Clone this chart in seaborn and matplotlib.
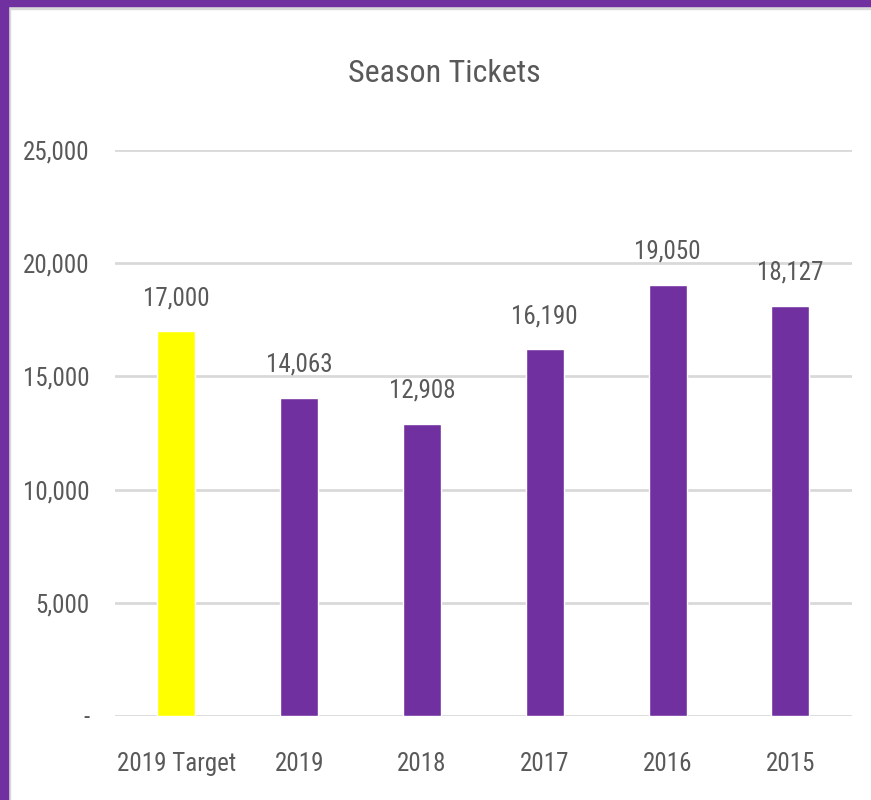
import matplotlib
matplotlib.use("Agg")
import matplotlib.pyplot as plt
from matplotlib.patches import Rectangle
from matplotlib.ticker import FuncFormatter
import seaborn as sns
import pandas as pd

categories = ["2019 Target", "2019", "2018", "2017", "2016", "2015"]
tickets = [17000, 14063, 12908, 16190, 19050, 18127]
bar_colors = ["#FFFF00", "#7030A0", "#7030A0", "#7030A0", "#7030A0", "#7030A0"]

sns.set_style("white")
# narrow font, closest to the Calibri used in the original
plt.rcParams['font.family'] = ['Roboto Condensed', 'DejaVu Sans']
text_grey = "#595959"

df = pd.DataFrame({"season": categories, "tickets": tickets})

fig = plt.figure(figsize=(8.71, 8.0), dpi=100)
ax = fig.add_axes([0.132, 0.105, 0.846, 0.7075])

sns.barplot(data=df, x="season", y="tickets", hue="season",
            palette=bar_colors, legend=False, width=0.31, ax=ax,
            saturation=1)

for c in ax.containers:
    ax.bar_label(c, labels=[f"{v:,.0f}" for v in c.datavalues],
                 padding=15, fontsize=18, color=text_grey)

ax.set_ylim(0, 25000)
ax.set_yticks([0, 5000, 10000, 15000, 20000, 25000])
ax.yaxis.set_major_formatter(FuncFormatter(lambda v, p: "-" if v == 0 else f"{v:,.0f}"))
ax.grid(axis="y", color="#D9D9D9", linewidth=2)
ax.set_axisbelow(True)
for s in ax.spines.values():
    s.set_visible(False)
ax.tick_params(axis="y", length=0, pad=18, labelsize=18, labelcolor=text_grey)
ax.tick_params(axis="x", length=0, pad=26, labelsize=18, labelcolor=text_grey)
ax.set_xlabel("")
ax.set_ylabel("")

fig.text(0.51, 0.908, "Season Tickets", ha="center", va="center",
         fontsize=23, color=text_grey)

# frame border: purple on left and top, thin grey edge inside
fig.patches.append(Rectangle((0, 0), 8 / 871, 1, transform=fig.transFigure,
                             color="#7030A0", zorder=5))
fig.patches.append(Rectangle((8 / 871, 0), 2 / 871, 1 - 6 / 800, transform=fig.transFigure,
                             color="#D9D9D9", zorder=4))
fig.patches.append(Rectangle((0, 1 - 6 / 800), 1, 6 / 800, transform=fig.transFigure,
                             color="#7030A0", zorder=5))
fig.patches.append(Rectangle((8 / 871, 1 - 9 / 800), 1, 3 / 800, transform=fig.transFigure,
                             color="#D9D9D9", zorder=4))

fig.savefig("out.png", dpi=100)
